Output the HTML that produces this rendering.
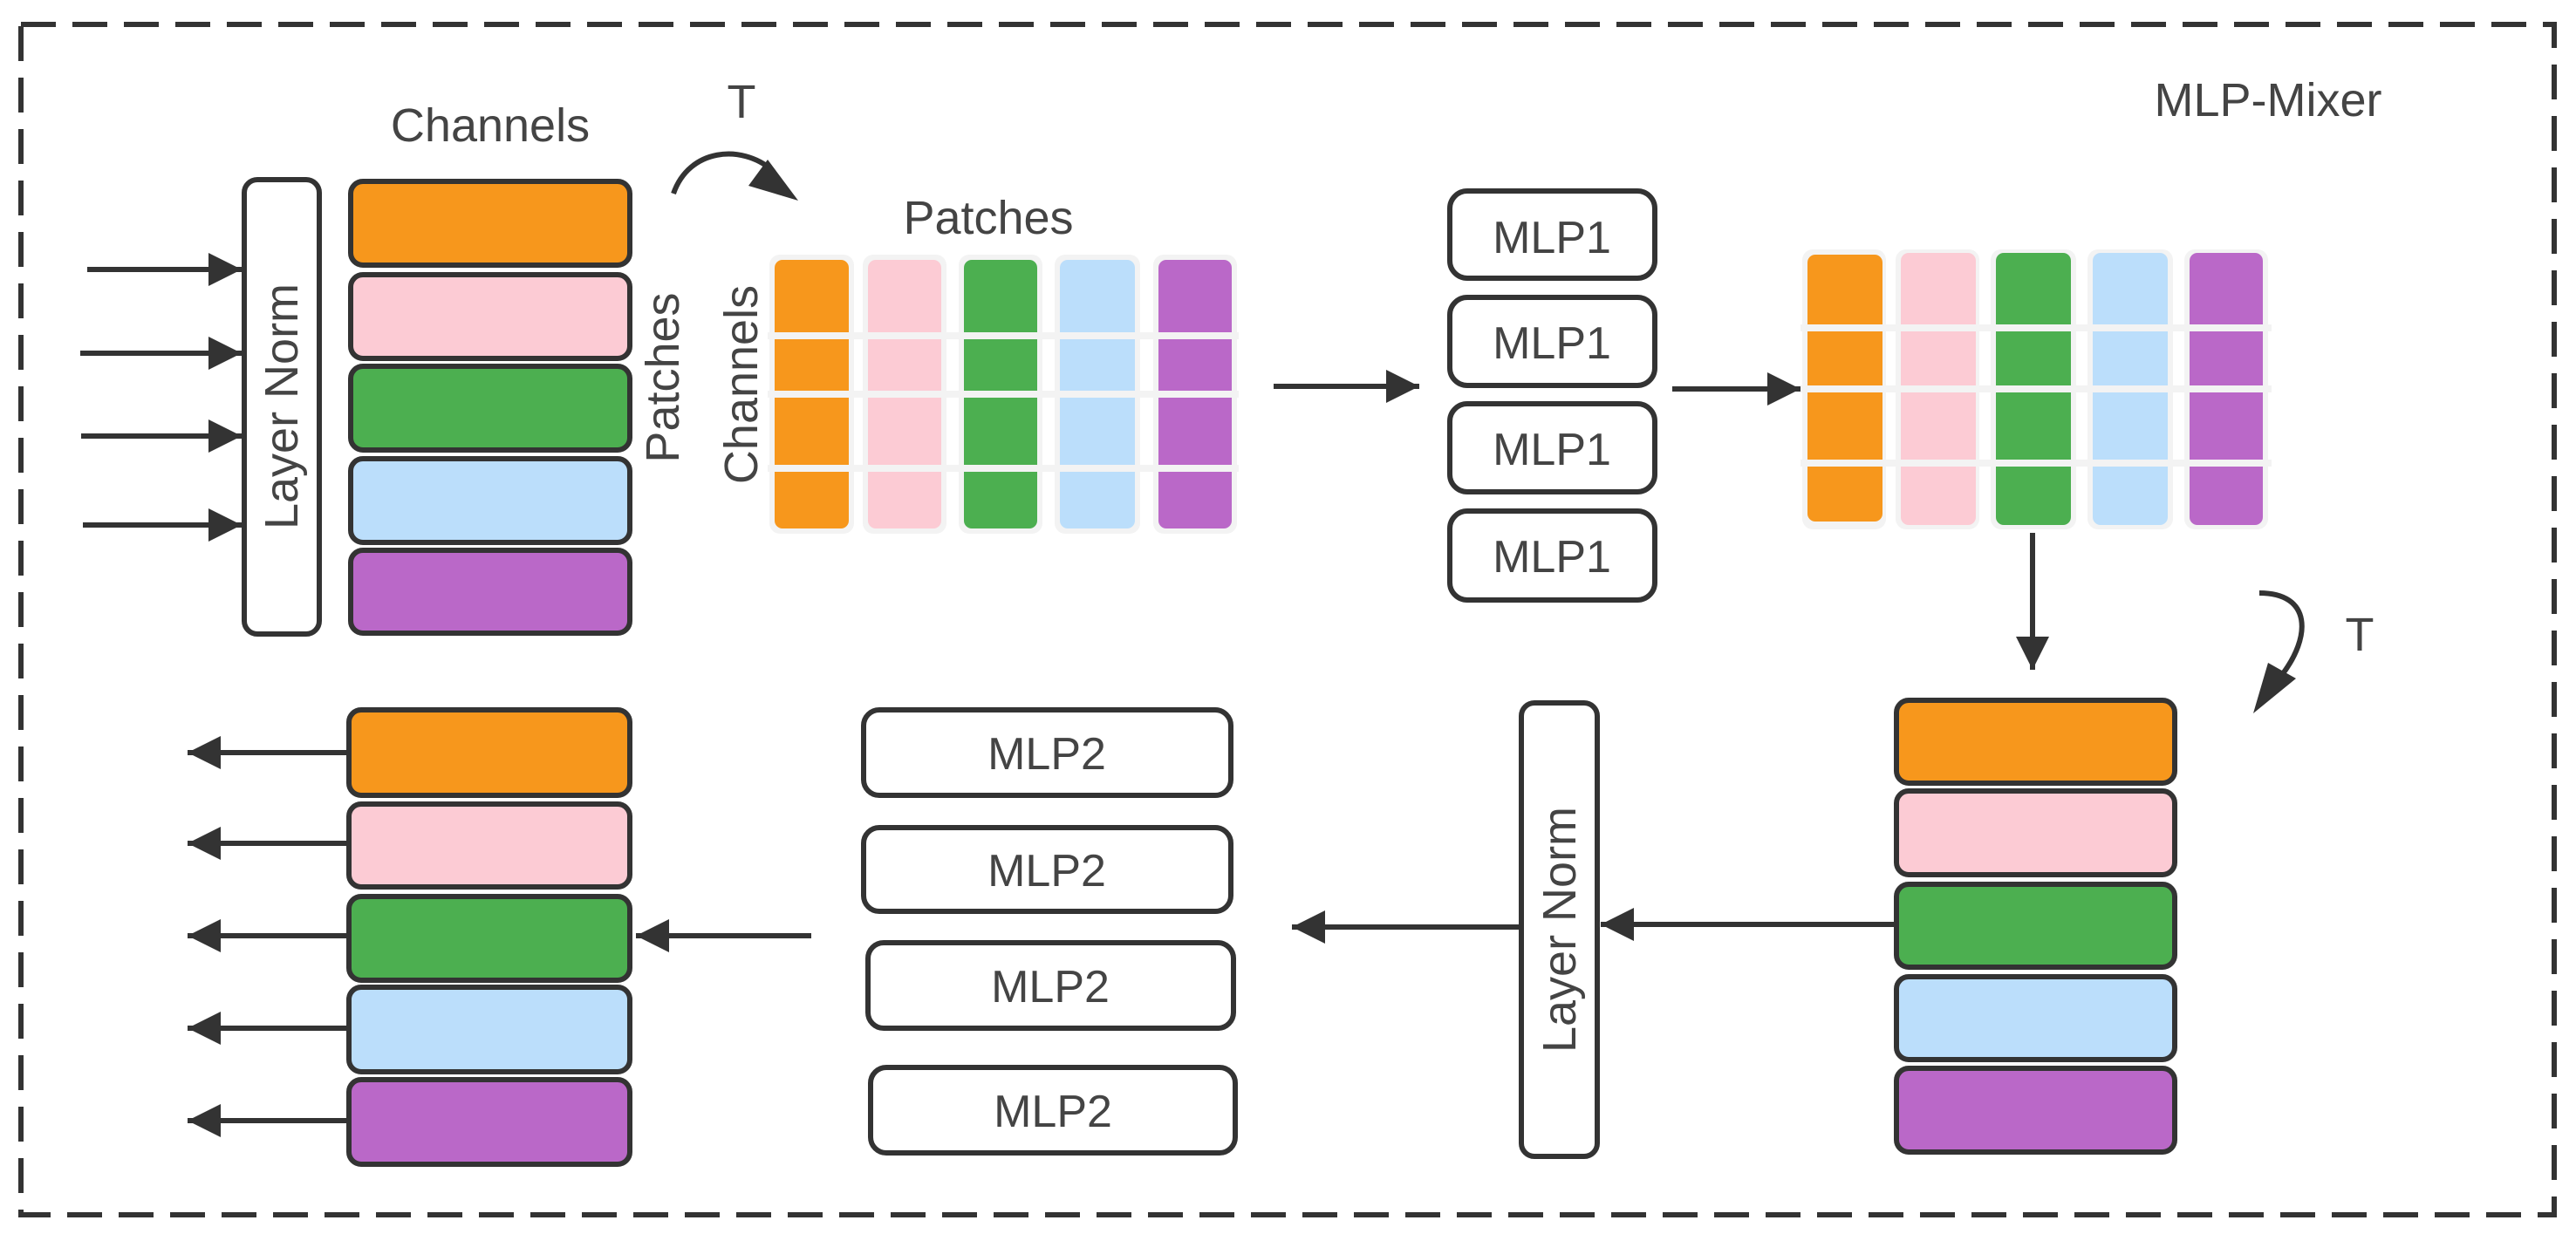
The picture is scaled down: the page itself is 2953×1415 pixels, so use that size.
<!DOCTYPE html>
<html><head><meta charset="utf-8"><style>
html,body{margin:0;padding:0;background:#fff;}
svg{display:block;}
text{font-family:"Liberation Sans",sans-serif;fill:#444;}
</style></head><body>
<svg width="2953" height="1415" viewBox="0 0 2953 1415" xmlns="http://www.w3.org/2000/svg">
<defs>
<marker id="ah" viewBox="0 0 10 10" refX="10" refY="5" markerWidth="57" markerHeight="38" markerUnits="userSpaceOnUse" orient="auto">
<path d="M0,0 L10,5 L0,10 Z" fill="#333"/>
</marker>
</defs>
<!-- dashed frame -->
<rect x="24" y="28" width="2904" height="1365" fill="none" stroke="#333" stroke-width="6" stroke-dasharray="40 19"/>

<text x="2600" y="133" font-size="54" text-anchor="middle">MLP‑Mixer</text>
<text x="562" y="162" font-size="54" text-anchor="middle">Channels</text>
<text x="850" y="135" font-size="54" text-anchor="middle">T</text>
<text x="1133" y="268" font-size="54" text-anchor="middle">Patches</text>
<text x="2705" y="746" font-size="54" text-anchor="middle">T</text>

<!-- curved arrows -->
<path d="M772,222 C790,170 850,165 885,195" fill="none" stroke="#333" stroke-width="6"/>
<path d="M880,183 L915,230 L858,213 Z" fill="#333"/>
<path d="M2590,680 C2650,680 2650,730 2615,775" fill="none" stroke="#333" stroke-width="6"/>
<path d="M2600,760 L2632,778 L2583,818 Z" fill="#333"/>

<!-- Layer norm 1 -->
<rect x="280" y="206" width="86" height="521" rx="15" fill="#fff" stroke="#333" stroke-width="6"/>
<text transform="translate(341,466) rotate(-90)" font-size="54" text-anchor="middle">Layer Norm</text>

<!-- input arrows -->
<g stroke="#333" stroke-width="6" marker-end="url(#ah)">
<line x1="100" y1="309" x2="277" y2="309"/>
<line x1="92" y1="405" x2="277" y2="405"/>
<line x1="93" y1="500" x2="277" y2="500"/>
<line x1="95" y1="602" x2="277" y2="602"/>
</g>

<!-- left bars top -->
<g stroke="#333" stroke-width="6">
<rect x="402" y="208" width="320" height="96" rx="14" fill="#F7971C"/>
<rect x="402" y="315" width="320" height="96" rx="14" fill="#FCCBD4"/>
<rect x="402" y="420" width="320" height="96" rx="14" fill="#4CAF50"/>
<rect x="402" y="526" width="320" height="96" rx="14" fill="#BBDEFB"/>
<rect x="402" y="631" width="320" height="95" rx="14" fill="#BA68C8"/>
</g>
<text transform="translate(778,433) rotate(-90)" font-size="54" text-anchor="middle">Patches</text>
<text transform="translate(868,441) rotate(-90)" font-size="54" text-anchor="middle">Channels</text>

<!-- grid 1 -->
<g>
<rect x="882" y="292" width="97" height="320" rx="12" fill="#f3f3f3"/>
<rect x="989" y="292" width="96" height="320" rx="12" fill="#f3f3f3"/>
<rect x="1099" y="292" width="96" height="320" rx="12" fill="#f3f3f3"/>
<rect x="1209" y="292" width="98" height="320" rx="12" fill="#f3f3f3"/>
<rect x="1322" y="292" width="96" height="320" rx="12" fill="#f3f3f3"/>
<rect x="888" y="298" width="85" height="308" rx="9" fill="#F7971C"/>
<rect x="995" y="298" width="84" height="308" rx="9" fill="#FCCBD4"/>
<rect x="1105" y="298" width="84" height="308" rx="9" fill="#4CAF50"/>
<rect x="1215" y="298" width="86" height="308" rx="9" fill="#BBDEFB"/>
<rect x="1328" y="298" width="84" height="308" rx="9" fill="#BA68C8"/>
<rect x="880" y="381" width="540" height="8" fill="#f3f3f3"/>
<rect x="880" y="448" width="540" height="8" fill="#f3f3f3"/>
<rect x="880" y="533" width="540" height="8" fill="#f3f3f3"/>
</g>

<line x1="1460" y1="443" x2="1627" y2="443" stroke="#333" stroke-width="6" marker-end="url(#ah)"/>

<!-- MLP1 -->
<g stroke="#333" stroke-width="6" fill="#fff">
<rect x="1662" y="219" width="235" height="100" rx="20"/>
<rect x="1662" y="341" width="235" height="101" rx="20"/>
<rect x="1662" y="463" width="235" height="101" rx="20"/>
<rect x="1662" y="586" width="235" height="102" rx="20"/>
</g>
<g font-size="52" text-anchor="middle">
<text x="1779" y="290">MLP1</text>
<text x="1779" y="411">MLP1</text>
<text x="1779" y="533">MLP1</text>
<text x="1779" y="656">MLP1</text>
</g>

<line x1="1917" y1="446" x2="2064" y2="446" stroke="#333" stroke-width="6" marker-end="url(#ah)"/>

<!-- grid 2 -->
<g>
<rect x="2066" y="286" width="96" height="321" rx="12" fill="#f3f3f3"/>
<rect x="2173" y="286" width="96" height="321" rx="12" fill="#f3f3f3"/>
<rect x="2282" y="286" width="98" height="321" rx="12" fill="#f3f3f3"/>
<rect x="2393" y="286" width="98" height="321" rx="12" fill="#f3f3f3"/>
<rect x="2504" y="286" width="96" height="321" rx="12" fill="#f3f3f3"/>
<rect x="2072" y="292" width="86" height="306" rx="9" fill="#F7971C"/>
<rect x="2179" y="290" width="86" height="312" rx="9" fill="#FCCBD4"/>
<rect x="2288" y="290" width="86" height="312" rx="9" fill="#4CAF50"/>
<rect x="2399" y="290" width="86" height="312" rx="9" fill="#BBDEFB"/>
<rect x="2510" y="290" width="84" height="312" rx="9" fill="#BA68C8"/>
<rect x="2064" y="372" width="540" height="8" fill="#f3f3f3"/>
<rect x="2064" y="442" width="540" height="8" fill="#f3f3f3"/>
<rect x="2064" y="527" width="540" height="8" fill="#f3f3f3"/>
</g>

<!-- down arrow -->
<line x1="2330" y1="611" x2="2330" y2="768" stroke="#333" stroke-width="6" marker-end="url(#ah)"/>

<!-- bottom-right bars -->
<g stroke="#333" stroke-width="6">
<rect x="2174" y="803" width="319" height="95" rx="14" fill="#F7971C"/>
<rect x="2174" y="907" width="319" height="96" rx="14" fill="#FCCBD4"/>
<rect x="2174" y="1014" width="319" height="95" rx="14" fill="#4CAF50"/>
<rect x="2174" y="1120" width="319" height="95" rx="14" fill="#BBDEFB"/>
<rect x="2174" y="1225" width="319" height="96" rx="14" fill="#BA68C8"/>
</g>

<!-- Layer norm 2 -->
<rect x="1744" y="806" width="87" height="520" rx="15" fill="#fff" stroke="#333" stroke-width="6"/>
<text transform="translate(1806,1066) rotate(-90)" font-size="54" text-anchor="middle">Layer Norm</text>

<line x1="2172" y1="1060" x2="1835" y2="1060" stroke="#333" stroke-width="6" marker-end="url(#ah)"/>
<line x1="1742" y1="1063" x2="1481" y2="1063" stroke="#333" stroke-width="6" marker-end="url(#ah)"/>

<!-- MLP2 -->
<g stroke="#333" stroke-width="6" fill="#fff">
<rect x="990" y="814" width="421" height="98" rx="18"/>
<rect x="990" y="949" width="421" height="96" rx="18"/>
<rect x="995" y="1081" width="419" height="98" rx="18"/>
<rect x="998" y="1224" width="418" height="98" rx="18"/>
</g>
<g font-size="52" text-anchor="middle">
<text x="1200" y="882">MLP2</text>
<text x="1200" y="1016">MLP2</text>
<text x="1204" y="1149">MLP2</text>
<text x="1207" y="1292">MLP2</text>
</g>

<line x1="930" y1="1073" x2="729" y2="1073" stroke="#333" stroke-width="6" marker-end="url(#ah)"/>

<!-- bottom-left bars -->
<g stroke="#333" stroke-width="6">
<rect x="400" y="814" width="322" height="98" rx="14" fill="#F7971C"/>
<rect x="400" y="922" width="322" height="95" rx="14" fill="#FCCBD4"/>
<rect x="400" y="1028" width="322" height="96" rx="14" fill="#4CAF50"/>
<rect x="400" y="1132" width="322" height="97" rx="14" fill="#BBDEFB"/>
<rect x="400" y="1238" width="322" height="97" rx="14" fill="#BA68C8"/>
</g>
<g stroke="#333" stroke-width="6" marker-end="url(#ah)">
<line x1="397" y1="863" x2="215" y2="863"/>
<line x1="397" y1="967" x2="215" y2="967"/>
<line x1="397" y1="1073" x2="215" y2="1073"/>
<line x1="397" y1="1179" x2="215" y2="1179"/>
<line x1="397" y1="1285" x2="215" y2="1285"/>
</g>
</svg>
</body></html>
